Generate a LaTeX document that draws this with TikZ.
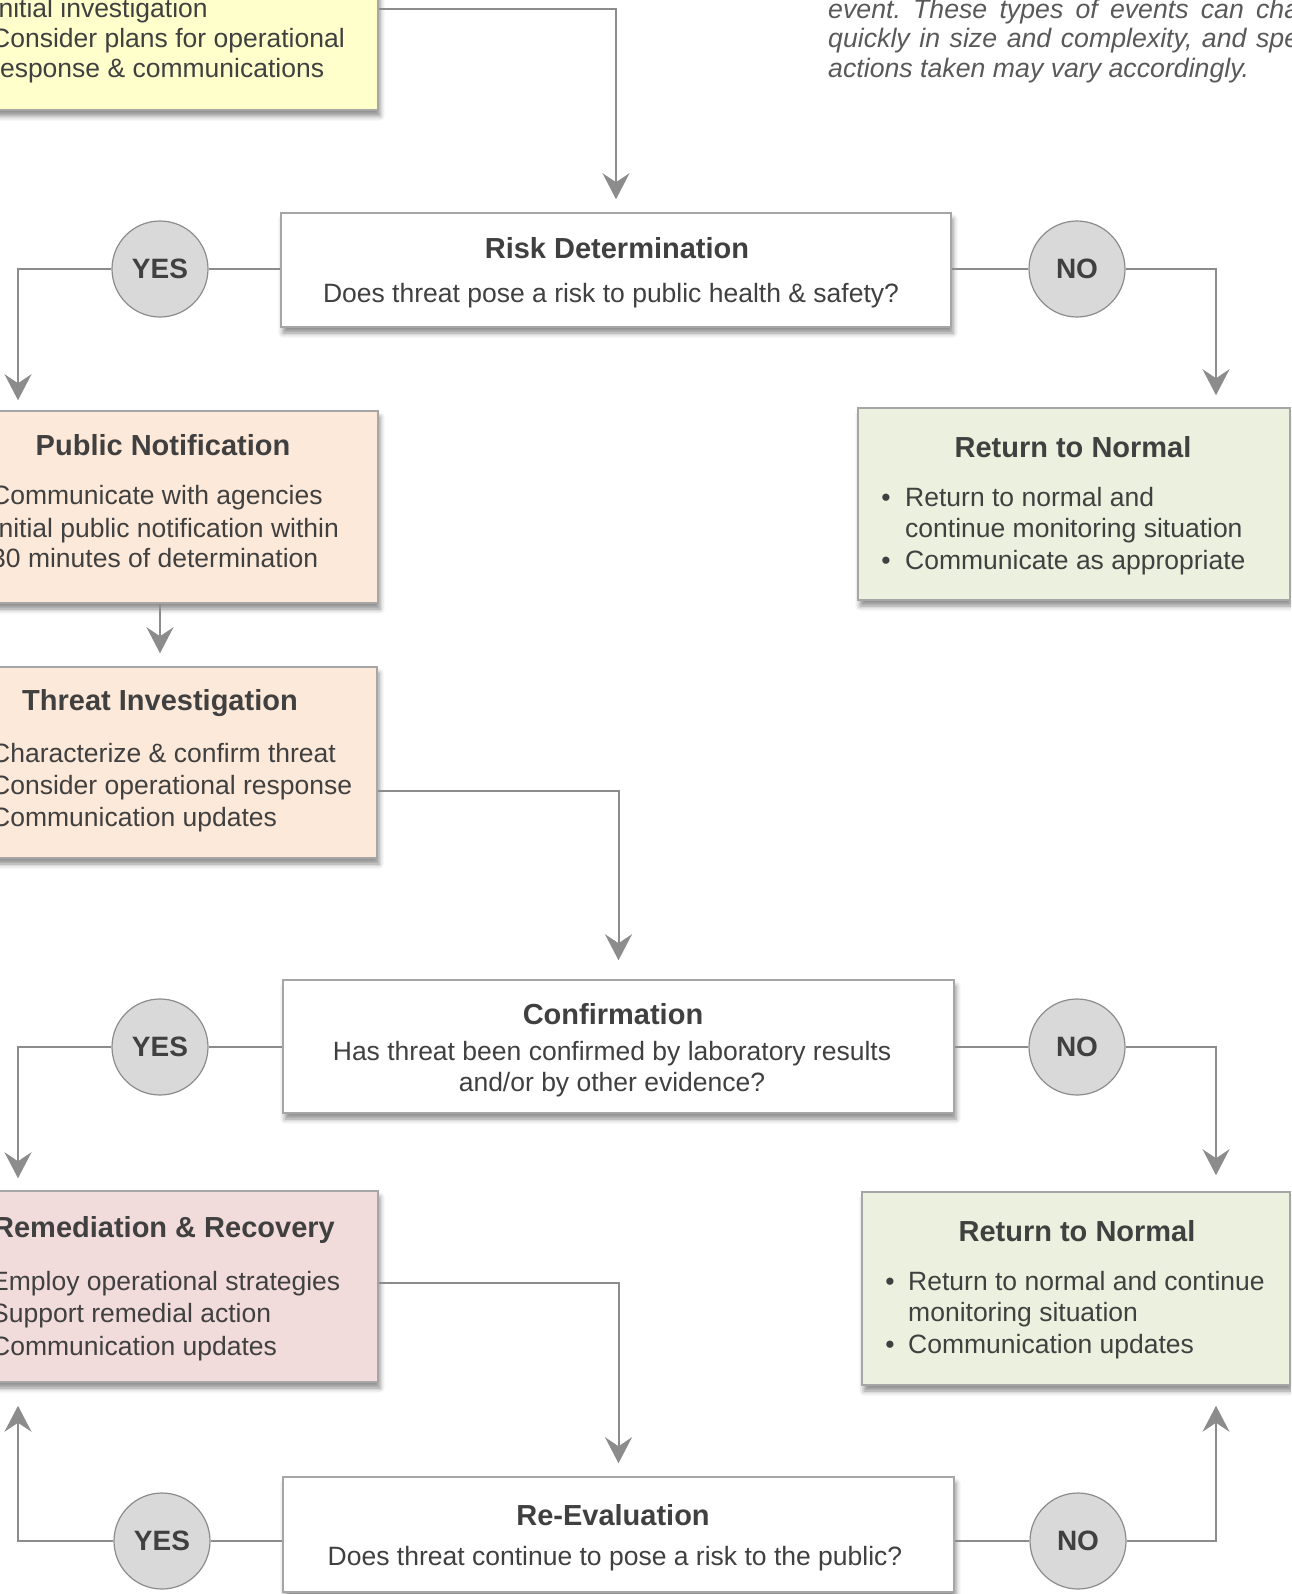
\documentclass[tikz,border=0pt]{standalone}
\usepackage{fontspec}
\setmainfont{Liberation Sans}
\usetikzlibrary{arrows.meta,shadows.blur}
\definecolor{txt}{HTML}{404040}
\definecolor{itxt}{HTML}{595959}
\definecolor{linec}{HTML}{8C8C8C}
\definecolor{boxline}{HTML}{A6A6A6}
\definecolor{circfill}{HTML}{D9D9D9}
\definecolor{yel}{HTML}{FFFFCC}
\definecolor{peach}{HTML}{FDE9D9}
\definecolor{grn}{HTML}{EBF1DE}
\definecolor{pink}{HTML}{F2DCDB}
\frenchspacing
\begin{document}
\begin{tikzpicture}[x=1pt,y=-1pt,
  box/.style={draw=boxline, line width=1.5pt, rectangle, inner sep=0pt,
    blur shadow={shadow xshift=2pt, shadow yshift=-6pt, shadow blur radius=5pt, shadow opacity=45}},
  conn/.style={draw=linec, line width=2pt},
  arr/.style={conn, -{Stealth[length=26pt,width=27pt,inset=9pt]}},
  yn/.style={circle, draw=linec, line width=1.2pt, fill=circfill, minimum size=96pt, inner sep=0pt,
    font=\fontsize{28}{30}\selectfont\bfseries, text=txt},
  ttl/.style={anchor=base, font=\fontsize{29}{34}\selectfont\bfseries, text=txt, inner sep=0pt},
  bod/.style={anchor=base west, font=\fontsize{26.5}{31}\selectfont, text=txt, inner sep=0pt},
  bodc/.style={anchor=base, font=\fontsize{26.5}{31}\selectfont, text=txt, inner sep=0pt},
  ital/.style={anchor=base west, font=\fontsize{26.7}{31}\selectfont\itshape, text=itxt, inner sep=0pt},
  bul/.style={anchor=base, font=\fontsize{26.5}{31}\selectfont, text=txt, inner sep=0pt}
]
\useasboundingbox (0,0) rectangle (1291,1594);
\clip (0,0) rectangle (1291,1594);

% column coordinates
\coordinate (lx) at (18,0);
\coordinate (rx) at (1216,0);
\coordinate (px) at (160,0);

% boxes
\node[box, fill=yel, minimum width=578pt, minimum height=210pt] (init) at (89,5) {};
\node[box, fill=white, minimum width=670pt, minimum height=114pt] (risk) at (616,270) {};
\node[box, fill=peach, minimum width=578pt, minimum height=192pt] (pubnot) at (89,507) {};
\node[box, fill=grn, minimum width=432pt, minimum height=192pt] (rtn1) at (1074,504) {};
\node[box, fill=peach, minimum width=577pt, minimum height=191pt] (threat) at (88.5,762.5) {};
\node[box, fill=white, minimum width=671pt, minimum height=133pt] (confirm) at (618.5,1046.5) {};
\node[box, fill=pink, minimum width=578pt, minimum height=191pt] (remed) at (89,1286.5) {};
\node[box, fill=grn, minimum width=428pt, minimum height=193pt] (rtn2) at (1076,1288.5) {};
\node[box, fill=white, minimum width=671pt, minimum height=115pt] (reeval) at (618.5,1534.5) {};

% circles
\node[yn] (y1) at (160,269) {YES};
\node[yn] (n1) at (1077,269) {NO};
\node[yn] (y2) at (160,1047) {YES};
\node[yn] (n2) at (1077,1047) {NO};
\node[yn] (y3) at (162,1541) {YES};
\node[yn] (n3) at (1078,1541) {NO};

% connectors
\draw[arr, shorten >=13pt] (init.east |- 0,9) -| (risk.north);
\draw[conn] (risk.west |- y1) -- (y1.east);
\draw[arr, shorten >=10pt] (y1.west) -| (lx |- pubnot.north);
\draw[conn] (risk.east |- n1) -- (n1.west);
\draw[arr, shorten >=12pt] (n1.east) -| (rx |- rtn1.north);
\draw[arr, shorten >=13pt] (px |- pubnot.south) -- (px |- threat.north);
\draw[arr, shorten >=19pt] (threat.east |- 0,791) -| (confirm.north);
\draw[conn] (confirm.west |- y2) -- (y2.east);
\draw[arr, shorten >=12pt] (y2.west) -| (lx |- remed.north);
\draw[conn] (confirm.east |- n2) -- (n2.west);
\draw[arr, shorten >=16pt] (n2.east) -| (rx |- rtn2.north);
\draw[arr, shorten >=13pt] (remed.east |- 0,1283) -| (reeval.north);
\draw[conn] (reeval.west |- y3) -- (y3.east);
\draw[arr, shorten >=23pt] (y3.west) -| (lx |- remed.south);
\draw[conn] (reeval.east |- n3) -- (n3.west);
\draw[arr, shorten >=20pt] (n3.east) -| (rx |- rtn2.south);

% texts: initial box
\node[bod] (i1) at (-9,18) {Initial investigation};
\node[bod] (i2) at (-9,48) {Consider plans for operational};
\node[bod] (i3) at (-9,78) {response \& communications};

% italic note
\node[ital] (e1) at (828,19) {\makebox[471pt][s]{event. These types of events can cha}};
\node[ital] (e2) at (828,48) {\makebox[471pt][s]{quickly in size and complexity, and spe}};
\node[ital] (e3) at (828,78) {actions taken may vary accordingly.};

% risk
\node[ttl] (rt) at (617,259) {Risk Determination};
\node[bodc] (rs) at (611,303) {Does threat pose a risk to public health \& safety?};

% public notification
\node[ttl] (pt) at (163,455) {Public Notification};
\node[bod] (p1) at (-9,504) {Communicate with agencies};
\node[bod] (p2) at (-9,537) {Initial public notification within};
\node[bod] (p3) at (-9,567) {30 minutes of determination};

% return to normal 1
\node[ttl] (r1t) at (1073,457) {Return to Normal};
\node[bul] (r1b1) at (886,506) {•};
\node[bod] (r1a) at (905,506) {Return to normal and};
\node[bod] (r1b) at (905,537) {continue monitoring situation};
\node[bul] (r1b2) at (886,569) {•};
\node[bod] (r1c) at (905,569) {Communicate as appropriate};

% threat investigation
\node[ttl] (tt) at (160,710) {Threat Investigation};
\node[bod] (t1) at (-9,762) {Characterize \& confirm threat};
\node[bod] (t2) at (-9,794) {Consider operational response};
\node[bod] (t3) at (-9,826) {Communication updates};

% confirmation
\node[ttl] (ct) at (613,1024) {Confirmation};
\node[bodc] (c1) at (612,1060) {Has threat been confirmed by laboratory results};
\node[bodc] (c2) at (612,1091) {and/or by other evidence?};

% remediation
\node[ttl] (mt) at (164,1237) {Remediation \& Recovery};
\node[bod] (m1) at (-9,1290) {Employ operational strategies};
\node[bod] (m2) at (-9,1322) {Support remedial action};
\node[bod] (m3) at (-9,1355) {Communication updates};

% return to normal 2
\node[ttl] (r2t) at (1077,1241) {Return to Normal};
\node[bul] (r2b1) at (890,1290) {•};
\node[bod] (r2a) at (908,1290) {Return to normal and continue};
\node[bod] (r2b) at (908,1321) {monitoring situation};
\node[bul] (r2b2) at (890,1353) {•};
\node[bod] (r2c) at (908,1353) {Communication updates};

% re-evaluation
\node[ttl] (et) at (613,1525) {Re-Evaluation};
\node[bodc] (e4) at (615,1565) {Does threat continue to pose a risk to the public?};
\end{tikzpicture}
\end{document}
